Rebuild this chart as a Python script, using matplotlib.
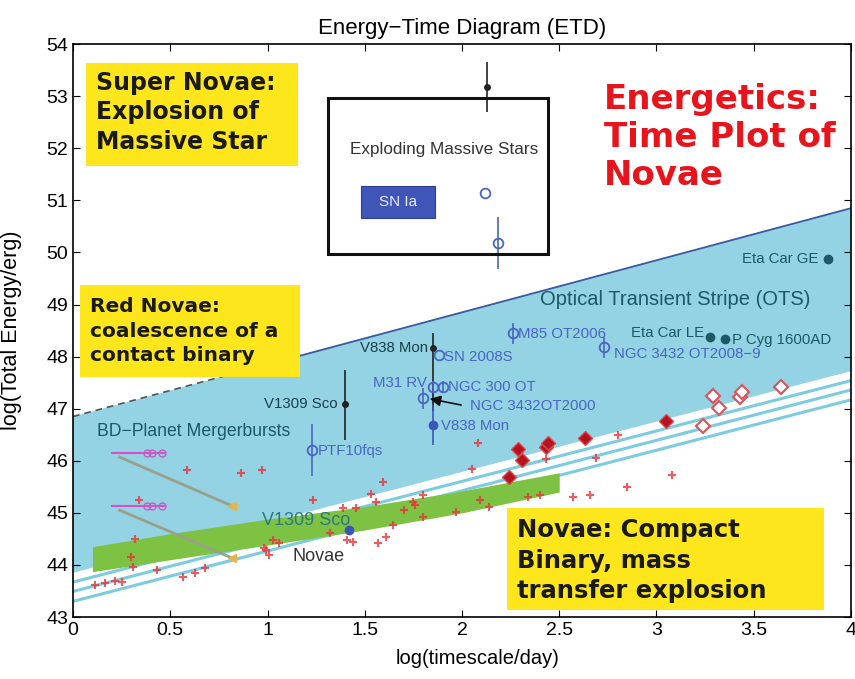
import numpy as np
import matplotlib
matplotlib.use('Agg')
import matplotlib.pyplot as plt
from matplotlib.patches import Polygon, Rectangle

plt.rcParams['font.family'] = ['Liberation Sans', 'DejaVu Sans']

# ---- data: x = log(timescale/day), y = log(E/erg) ----
# Optical transient stripe: upper / lower edge (x, y) at both ends
ots_x = [0.0, 4.0]
ots_top = [46.85, 50.85]
ots_bottom = [43.85, 47.72]
stripe_offsets = [0.18, 0.36, 0.55]

# novae band (green)
band_x = [0.1, 0.5, 1.0, 1.5, 2.0, 2.5]
band_top = [44.35, 44.6, 44.88, 45.12, 45.42, 45.77]
band_bot = [43.87, 44.1, 44.38, 44.67, 45.0, 45.4]

# black points with error bars (SN, V838 Mon, V1309 Sco)
blk_x = [2.13, 1.85, 1.40]
blk_y = [53.17, 48.16, 47.09]
blk_lo = [0.48, 1.2, 0.7]
blk_hi = [0.48, 0.29, 0.65]

# blue open circles
opn_x = [2.12, 2.185, 2.26, 2.73, 1.88, 1.85, 1.90, 1.80, 1.23]
opn_y = [51.14, 50.18, 48.45, 48.18, 48.03, 47.42, 47.42, 47.20, 46.20]
opn_err = [0.0, 0.5, 0.2, 0.2, 0.0, 0.12, 0.12, 0.2, 0.5]

# blue filled points (V838 Mon, V1309 Sco)
bf_x = [1.85, 1.42]
bf_y = [46.69, 44.67]
bf_err = [0.38, 0.0]

# LBV eruptions (Eta Car GE, Eta Car LE, P Cyg)
lbv_x = [3.88, 3.275, 3.35]
lbv_y = [49.87, 48.38, 48.34]

# novae (red plus)
nov_x = [0.586, 0.864, 0.972, 0.339, 0.319, 0.298, 0.308, 0.432, 0.566, 0.627,
         0.679, 0.113, 0.165, 0.216, 0.252, 0.982, 1.594, 1.234, 1.53, 1.56,
         1.80, 1.75, 1.76, 1.39, 1.455, 1.70, 1.80, 1.645, 1.32, 1.41,
         1.44, 1.57, 1.61, 1.03, 1.06, 0.99, 1.01, 2.08, 2.05, 2.80,
         2.69, 2.85, 2.57, 2.66, 3.08, 2.43, 2.09, 2.14, 2.34, 2.40, 1.97]
nov_y = [45.82, 45.77, 45.82, 45.25, 44.50, 44.15, 43.96, 43.90, 43.77, 43.85,
         43.94, 43.62, 43.65, 43.69, 43.67, 44.33, 45.59, 45.25, 45.36, 45.21,
         45.34, 45.21, 45.15, 45.09, 45.09, 45.06, 44.92, 44.77, 44.61, 44.48,
         44.44, 44.42, 44.54, 44.48, 44.42, 44.29, 44.19, 46.34, 45.84, 46.50,
         46.05, 45.50, 45.31, 45.34, 45.73, 46.03, 45.25, 45.11, 45.30, 45.34, 45.02]

# filled / open diamonds
dia_x = [2.29, 2.31, 2.24, 2.43, 2.44, 2.63, 3.05]
dia_y = [46.23, 46.02, 45.69, 46.27, 46.34, 46.44, 46.77]
odia_x = [3.29, 3.32, 3.24, 3.43, 3.44, 3.64]
odia_y = [47.24, 47.01, 46.67, 47.22, 47.32, 47.42]

# BD-planet mergerbursts: magenta track then grey decay
bd_mag_x = [0.20, 0.47]
bd_mag_y = [46.14, 45.13]
bd_circ_x = [0.38, 0.405, 0.46]
bd_decay_x = [0.24, 0.82]
bd_decay_y = [[46.07, 45.13], [45.05, 44.13]]

cyan = '#93d3e3'
yellow = '#fde61c'
teal = '#1d5868'
blue = '#4a66c2'
heavy = ['DejaVu Sans']

fig = plt.figure(figsize=(8.55, 6.79), dpi=100)
ax = fig.add_axes([0.0854, 0.0913, 0.9099, 0.8437])

# OTS stripe
ax.add_patch(Polygon([(ots_x[0], ots_top[0]), (ots_x[1], ots_top[1]),
                      (ots_x[1], ots_bottom[1]), (ots_x[0], ots_bottom[0])],
                     closed=True, fc=cyan, ec='none', zorder=1))
xs = np.array(ots_x)
for off in stripe_offsets:
    ax.plot(xs, np.array(ots_bottom) - off, color='#7ccbdf', lw=2.2, zorder=2)
top = np.interp([0, 1.1, 4], ots_x, ots_top)
ax.plot([0, 1.1], top[:2], color='#555555', lw=1.2, ls=(0, (4, 3)), zorder=2)
ax.plot([1.1, 4], top[1:], color='#3b5a9c', lw=1.3, zorder=2)

# novae band
ax.fill_between(band_x, band_bot, band_top, color='#7dc242', lw=0, zorder=3)

# novae
ax.plot(nov_x, nov_y, '+', color='#e8333a', ms=6, mew=1.5, alpha=0.8, zorder=4)
ax.plot(dia_x, dia_y, 'D', color='#b3141d', mec='#d94a50', ms=7, zorder=5)
ax.plot(odia_x, odia_y, 'D', mfc='white', mec='#d9535a', mew=1.5, ms=7, zorder=5)

# BD-planet tracks
for y0, (ya, yb) in zip(bd_mag_y, bd_decay_y):
    ax.plot(bd_decay_x, [ya, yb], color='#9aa08a', lw=2, zorder=4)
    ax.plot(bd_decay_x[1], yb, '<', color='#e3b54a', ms=6, zorder=4)
    ax.plot(bd_mag_x, [y0, y0], color='#d94fc8', lw=1.5, zorder=4)
    ax.plot(bd_circ_x, [y0] * 3, 'o', mfc='none', mec='#c060c0', ms=5, zorder=4)

# transients
ax.errorbar(blk_x, blk_y, yerr=[blk_lo, blk_hi], fmt='o', color='#222222',
            ms=4, lw=1.2, capsize=0, zorder=6)
ax.errorbar(opn_x, opn_y, yerr=opn_err, fmt='o', mfc='none', mec=blue,
            ecolor=blue, ms=7, mew=1.3, lw=1.2, capsize=0, zorder=6)
ax.errorbar(bf_x, bf_y, yerr=bf_err, fmt='o', color='#3a57b8', ms=6, lw=1.2,
            capsize=0, zorder=6)
ax.plot(lbv_x, lbv_y, 'o', color=teal, ms=6, zorder=6)
ax.annotate('', xy=(1.82, 47.2), xytext=(2.01, 47.06),
            arrowprops=dict(arrowstyle='-|>', color='#111111', lw=1.2,
                            mutation_scale=16), zorder=7)

# exploding massive stars box
ax.add_patch(Rectangle((1.31, 49.97), 1.13, 2.99, fc='none', ec='#111111',
                       lw=2.2, zorder=6))
ax.text(1.907, 51.97, 'Exploding Massive Stars', fontsize=12.3, color='#333333',
        ha='center', va='center', zorder=7)
ax.add_patch(Rectangle((1.48, 50.66), 0.38, 0.61, fc='#3f55b8', ec='#2a3f99',
                       lw=0.8, zorder=6))
ax.text(1.67, 50.965, 'SN Ia', fontsize=11, color='#e8ecff', ha='center',
        va='center', zorder=7)

# labels
lbl = dict(fontsize=10.8, va='center', zorder=8)
ax.text(3.83, 49.87, 'Eta Car GE', color=teal, ha='right', **lbl)
ax.text(3.095, 49.09, 'Optical Transient Stripe (OTS)', color=teal, ha='center',
        fontsize=14.5, va='center', zorder=8)
ax.text(3.245, 48.45, 'Eta Car LE', color=teal, ha='right', **lbl)
ax.text(3.39, 48.32, 'P Cyg 1600AD', color=teal, ha='left', **lbl)
ax.text(2.78, 48.05, 'NGC 3432 OT2008\u22129', color=blue, ha='left', **lbl)
ax.text(2.29, 48.43, 'M85 OT2006', color=blue, ha='left', **lbl)
ax.text(1.825, 48.16, 'V838 Mon', color='#1c3f4c', ha='right', **lbl)
ax.text(1.91, 47.99, 'SN 2008S', color=blue, ha='left', **lbl)
ax.text(1.82, 47.49, 'M31 RV', color=blue, ha='right', **lbl)
ax.text(1.93, 47.42, 'NGC 300 OT', color=blue, ha='left', **lbl)
ax.text(2.04, 47.05, 'NGC 3432OT2000', color=blue, ha='left', **lbl)
ax.text(1.89, 46.67, 'V838 Mon', color=blue, ha='left', **lbl)
ax.text(1.36, 47.09, 'V1309 Sco', color='#1c3f4c', ha='right', **lbl)
ax.text(1.26, 46.19, 'PTF10fqs', color=blue, ha='left', **lbl)
ax.text(0.123, 46.57, 'BD\u2212Planet Mergerbursts', color=teal, ha='left',
        fontsize=12.7, va='center', zorder=8)
ax.text(0.97, 44.86, 'V1309 Sco', color='#2a7a80', ha='left', fontsize=13,
        va='center', zorder=8)
ax.text(1.126, 44.17, 'Novae', color='#333333', ha='left', fontsize=13,
        va='center', zorder=8)

# yellow annotation boxes
boxes = [((0.067, 51.66), 1.09, 1.98, 0.118, 52.69,
          'Super Novae:\nExplosion of\nMassive Star', 17, 1.3),
         ((0.036, 47.61), 1.131, 1.76, 0.087, 48.49,
          'Red Novae:\ncoalescence of a\ncontact binary', 14.5, 1.35),
         ((2.23, 43.14), 1.63, 1.95, 2.283, 44.08,
          'Novae: Compact\nBinary, mass\ntransfer explosion', 17.5, 1.33)]
for (x0, y0), w, h, tx, ty, txt, fs, lsp in boxes:
    ax.add_patch(Rectangle((x0, y0), w, h, fc=yellow, ec='none', zorder=9))
    ax.text(tx, ty, txt, fontsize=fs, fontweight='bold', color='#1a1a1a',
            family=heavy, ha='left', va='center', linespacing=lsp, zorder=10)

ax.text(2.73, 52.2, 'Energetics:\nTime Plot of\nNovae', fontsize=24.5,
        fontweight='bold', color='#e8141c', family=heavy, ha='left',
        va='center', linespacing=1.19, zorder=10)

ax.set_xlim(0, 4)
ax.set_ylim(43, 54)
ax.set_xticks(np.arange(0, 4.01, 0.5))
ax.set_xticklabels(['0', '0.5', '1', '1.5', '2', '2.5', '3', '3.5', '4'])
ax.set_yticks(np.arange(43, 55, 1))
ax.tick_params(direction='in', top=True, right=True, length=5, labelsize=14,
               width=0.8)
for s in ax.spines.values():
    s.set_linewidth(1.2)
    s.set_zorder(11)
ax.set_xlabel('log(timescale/day)', fontsize=14.5)
ax.xaxis.set_label_coords(0.52, -0.055)
ax.set_ylabel('log(Total Energy/erg)', fontsize=15.5)
ax.yaxis.set_label_coords(-0.066, 0.5)
ax.set_title('Energy\u2212Time Diagram (ETD)', fontsize=16, pad=7)

fig.savefig('out.png', dpi=100)
